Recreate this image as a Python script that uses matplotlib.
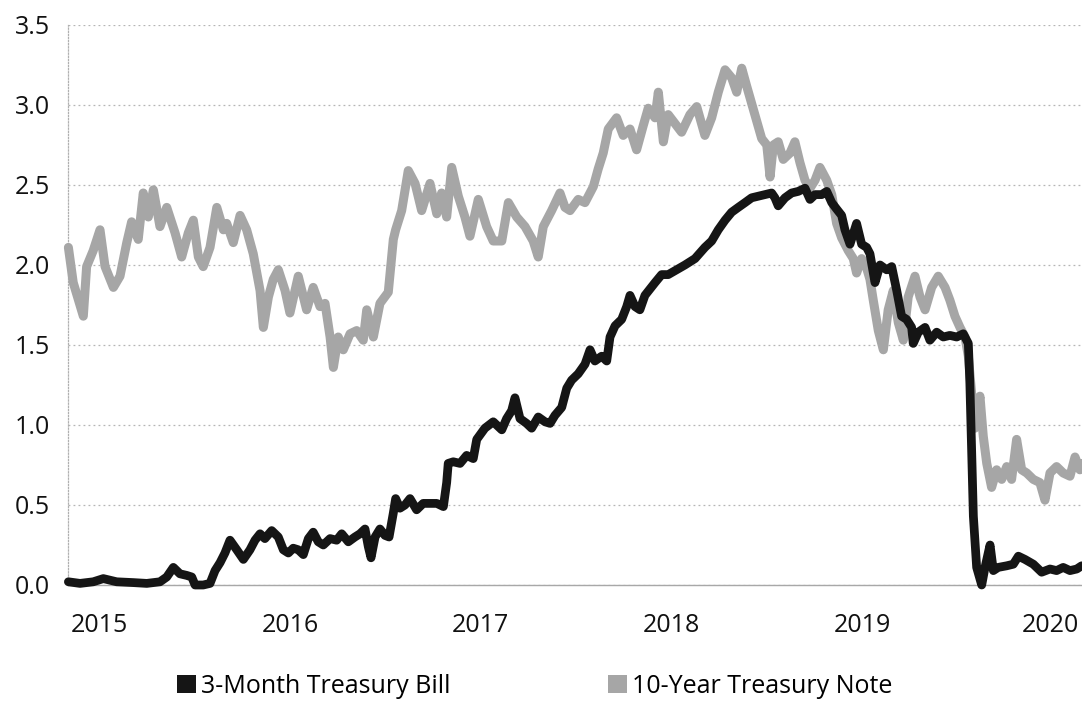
import matplotlib.pyplot as plt
from matplotlib.patches import Patch

plt.rcParams['font.family'] = ['Open Sans', 'DejaVu Sans']

# 10-year treasury note (time in fractional years, yield in %)
note_t = [2014.902, 2014.927, 2014.979, 2014.996, 2015.030, 2015.065, 2015.091, 2015.134, 2015.168, 2015.203,
          2015.228, 2015.262, 2015.288, 2015.314, 2015.340, 2015.374, 2015.409, 2015.452, 2015.486, 2015.520,
          2015.546, 2015.572, 2015.597, 2015.632, 2015.667, 2015.701, 2015.718, 2015.752, 2015.787, 2015.821,
          2015.855, 2015.890, 2015.907, 2015.933, 2015.958,
          2015.984, 2016.019, 2016.044, 2016.087, 2016.130, 2016.164, 2016.199, 2016.225, 2016.251, 2016.268,
          2016.293, 2016.319, 2016.354, 2016.388, 2016.422, 2016.440, 2016.474, 2016.508, 2016.551, 2016.577,
          2016.589, 2016.620, 2016.654, 2016.689, 2016.723, 2016.766, 2016.801, 2016.826, 2016.852, 2016.878,
          2016.912, 2016.946, 2016.972,
          2017.015, 2017.058, 2017.092, 2017.136, 2017.170, 2017.213, 2017.256, 2017.298, 2017.324, 2017.350,
          2017.393, 2017.436, 2017.462, 2017.488, 2017.530, 2017.565, 2017.608, 2017.633, 2017.659, 2017.685,
          2017.728, 2017.762, 2017.797, 2017.831, 2017.865, 2017.891, 2017.926, 2017.943, 2017.969, 2017.994,
          2018.063, 2018.106, 2018.141, 2018.183, 2018.218, 2018.252, 2018.287, 2018.321, 2018.347, 2018.373,
          2018.398, 2018.424, 2018.450, 2018.476, 2018.502, 2018.519, 2018.536, 2018.561, 2018.587, 2018.622,
          2018.647, 2018.673, 2018.699, 2018.725, 2018.751, 2018.776, 2018.811, 2018.837, 2018.862, 2018.888,
          2018.922, 2018.948, 2018.965, 2018.991, 2019.017,
          2019.034, 2019.051, 2019.077, 2019.103, 2019.128, 2019.154, 2019.180, 2019.206, 2019.231, 2019.266,
          2019.292, 2019.318, 2019.352, 2019.386, 2019.421, 2019.446, 2019.472, 2019.498, 2019.524, 2019.541,
          2019.558, 2019.575, 2019.601, 2019.618, 2019.636, 2019.661, 2019.687, 2019.713, 2019.739, 2019.764,
          2019.790, 2019.816, 2019.842, 2019.876, 2019.910, 2019.936, 2019.962, 2019.996, 2020.030, 2020.065,
          2020.091, 2020.116, 2020.127]
note_y = [2.11, 1.89, 1.68, 1.99, 2.09, 2.22, 1.99, 1.86, 1.93, 2.14,
          2.27, 2.16, 2.45, 2.30, 2.47, 2.24, 2.36, 2.20, 2.05, 2.20,
          2.28, 2.05, 1.99, 2.11, 2.36, 2.22, 2.26, 2.14, 2.31, 2.22,
          2.07, 1.84, 1.61, 1.80, 1.91,
          1.97, 1.84, 1.70, 1.93, 1.72, 1.86, 1.74, 1.76, 1.55, 1.36,
          1.55, 1.47, 1.57, 1.59, 1.53, 1.72, 1.55, 1.76, 1.83, 2.16,
          2.22, 2.34, 2.59, 2.51, 2.34, 2.51, 2.32, 2.45, 2.30, 2.61,
          2.43, 2.30, 2.18,
          2.41, 2.24, 2.15, 2.15, 2.39, 2.30, 2.24, 2.15, 2.05, 2.24,
          2.34, 2.45, 2.36, 2.34, 2.41, 2.39, 2.49, 2.60, 2.70, 2.85,
          2.92, 2.81, 2.85, 2.72, 2.87, 2.98, 2.92, 3.08, 2.77, 2.94,
          2.83, 2.94, 2.99, 2.81, 2.92, 3.08, 3.22, 3.17, 3.08, 3.23,
          3.12, 3.01, 2.90, 2.79, 2.75, 2.55, 2.75, 2.77, 2.66, 2.70,
          2.77, 2.64, 2.53, 2.48, 2.53, 2.61, 2.53, 2.44, 2.26, 2.17,
          2.09, 2.04, 1.95, 2.04, 1.98,
          1.91, 1.78, 1.59, 1.47, 1.72, 1.84, 1.64, 1.53, 1.80, 1.93,
          1.80, 1.72, 1.86, 1.93, 1.86, 1.78, 1.68, 1.61, 1.55, 1.43,
          1.20, 0.98, 1.18, 0.93, 0.76, 0.61, 0.72, 0.66, 0.74, 0.66,
          0.91, 0.72, 0.70, 0.66, 0.64, 0.53, 0.70, 0.74, 0.70, 0.68,
          0.80, 0.72, 0.76]

# 3-month treasury bill
bill_t = [2014.902, 2014.962, 2015.030, 2015.082, 2015.151, 2015.237, 2015.306, 2015.374, 2015.409, 2015.443,
          2015.477, 2015.512, 2015.538, 2015.555, 2015.597, 2015.632, 2015.658, 2015.684, 2015.709, 2015.735,
          2015.770, 2015.804, 2015.838, 2015.864, 2015.890, 2015.915, 2015.950,
          2015.984, 2016.010, 2016.036, 2016.061, 2016.087, 2016.113, 2016.139, 2016.164, 2016.190, 2016.216,
          2016.251, 2016.285, 2016.311, 2016.345, 2016.379, 2016.405, 2016.431, 2016.448, 2016.462, 2016.483,
          2016.508, 2016.534, 2016.555, 2016.577, 2016.589, 2016.611, 2016.637, 2016.663, 2016.697, 2016.731,
          2016.766, 2016.801, 2016.835, 2016.852, 2016.860, 2016.886, 2016.921, 2016.955, 2016.989,
          2017.007, 2017.049, 2017.092, 2017.136, 2017.161, 2017.187, 2017.204, 2017.230, 2017.264, 2017.290,
          2017.324, 2017.359, 2017.385, 2017.410, 2017.445, 2017.471, 2017.496, 2017.530, 2017.565, 2017.591,
          2017.616, 2017.651, 2017.677, 2017.694, 2017.720, 2017.754, 2017.780, 2017.797, 2017.823, 2017.848,
          2017.874, 2017.900, 2017.926, 2017.960, 2017.994,
          2018.080, 2018.132, 2018.183, 2018.218, 2018.252, 2018.287, 2018.321, 2018.355, 2018.390, 2018.424,
          2018.458, 2018.493, 2018.527, 2018.544, 2018.561, 2018.596, 2018.630, 2018.664, 2018.699, 2018.725,
          2018.751, 2018.785, 2018.811, 2018.837, 2018.862, 2018.888, 2018.905, 2018.931, 2018.965, 2018.991,
          2019.017,
          2019.034, 2019.060, 2019.086, 2019.120, 2019.146, 2019.172, 2019.197, 2019.223, 2019.249, 2019.257,
          2019.283, 2019.318, 2019.343, 2019.378, 2019.412, 2019.446, 2019.481, 2019.515, 2019.541, 2019.549,
          2019.558, 2019.567, 2019.584, 2019.610, 2019.627, 2019.653, 2019.670, 2019.695, 2019.739, 2019.773,
          2019.799, 2019.833, 2019.876, 2019.919, 2019.962, 2019.996, 2020.030, 2020.065, 2020.100, 2020.125]
bill_y = [0.02, 0.01, 0.02, 0.04, 0.02, 0.015, 0.01, 0.02, 0.05, 0.11,
          0.07, 0.06, 0.05, 0.00, 0.00, 0.01, 0.09, 0.14, 0.20, 0.28,
          0.22, 0.16, 0.22, 0.28, 0.32, 0.29, 0.34,
          0.30, 0.22, 0.20, 0.23, 0.22, 0.19, 0.29, 0.33, 0.27, 0.25,
          0.29, 0.28, 0.32, 0.27, 0.30, 0.32, 0.35, 0.24, 0.17, 0.30,
          0.35, 0.31, 0.30, 0.45, 0.54, 0.48, 0.50, 0.54, 0.47, 0.51,
          0.51, 0.51, 0.49, 0.64, 0.76, 0.77, 0.76, 0.81, 0.79,
          0.91, 0.98, 1.02, 0.97, 1.04, 1.09, 1.17, 1.04, 1.01, 0.98,
          1.05, 1.02, 1.01, 1.06, 1.11, 1.23, 1.28, 1.32, 1.38, 1.47,
          1.40, 1.43, 1.40, 1.55, 1.62, 1.66, 1.74, 1.81, 1.74, 1.72,
          1.81, 1.85, 1.89, 1.94, 1.94,
          2.00, 2.04, 2.11, 2.15, 2.22, 2.28, 2.33, 2.36, 2.39, 2.42,
          2.43, 2.44, 2.45, 2.42, 2.37, 2.42, 2.45, 2.46, 2.48, 2.41,
          2.44, 2.44, 2.46, 2.39, 2.35, 2.31, 2.22, 2.13, 2.26, 2.13,
          2.11,
          2.07, 1.89, 2.00, 1.97, 1.99, 1.84, 1.68, 1.66, 1.61, 1.51,
          1.58, 1.61, 1.53, 1.58, 1.55, 1.56, 1.55, 1.57, 1.51, 1.26,
          0.84, 0.43, 0.11, 0.00, 0.11, 0.25, 0.09, 0.11, 0.12, 0.13,
          0.18, 0.16, 0.13, 0.08, 0.10, 0.09, 0.11, 0.09, 0.10, 0.12]

year_ticks = [2015.060, 2016.044, 2017.026, 2018.008, 2018.993, 2019.962]
year_labels = ['2015', '2016', '2017', '2018', '2019', '2020']
y_ticks = [0.0, 0.5, 1.0, 1.5, 2.0, 2.5, 3.0, 3.5]

bill_color = '#151515'
note_color = '#a6a6a6'

fig = plt.figure(figsize=(10.82, 7.04), dpi=100)
ax = fig.add_axes([68 / 1082, 119 / 704, 1014 / 1082, 560 / 704])

ax.plot(note_t, note_y, color=note_color, lw=6.5, solid_joinstyle='round',
        solid_capstyle='round', clip_on=False, zorder=3)
ax.plot(bill_t, bill_y, color=bill_color, lw=6.3, solid_joinstyle='round',
        solid_capstyle='round', clip_on=False, zorder=4)

ax.set_xlim(2014.9, 2020.127)
ax.set_ylim(0, 3.5)
ax.set_xticks(year_ticks)
ax.set_xticklabels(year_labels)
ax.set_yticks(y_ticks)
ax.set_yticklabels(['%.1f' % v for v in y_ticks])

ax.yaxis.grid(True, linestyle=(0, (1.5, 2.5)), color='#b5b5b5', lw=0.9)
ax.xaxis.grid(False)
ax.set_axisbelow(True)

for s in ['top', 'right']:
    ax.spines[s].set_visible(False)
ax.spines['left'].set_linestyle((0, (1, 1.5)))
ax.spines['left'].set_color('#b0b0b0')
ax.spines['left'].set_linewidth(0.9)
ax.spines['bottom'].set_color('#a8a8a8')
ax.spines['bottom'].set_linewidth(1.0)

ax.tick_params(axis='both', length=0, labelsize=18, colors='#111111')
ax.tick_params(axis='y', pad=13)
ax.tick_params(axis='x', pad=20)

handles = [Patch(facecolor=bill_color, edgecolor='none'),
           Patch(facecolor=note_color, edgecolor='none')]
fig.legend(handles, ['3-Month Treasury Bill', '10-Year Treasury Note'],
           loc='center', bbox_to_anchor=(0.494, 0.025), ncol=2, frameon=False,
           fontsize=18, handlelength=0.75, handleheight=0.75,
           handletextpad=0.2, columnspacing=6.3, borderaxespad=0)

fig.savefig('out.png', dpi=100)
